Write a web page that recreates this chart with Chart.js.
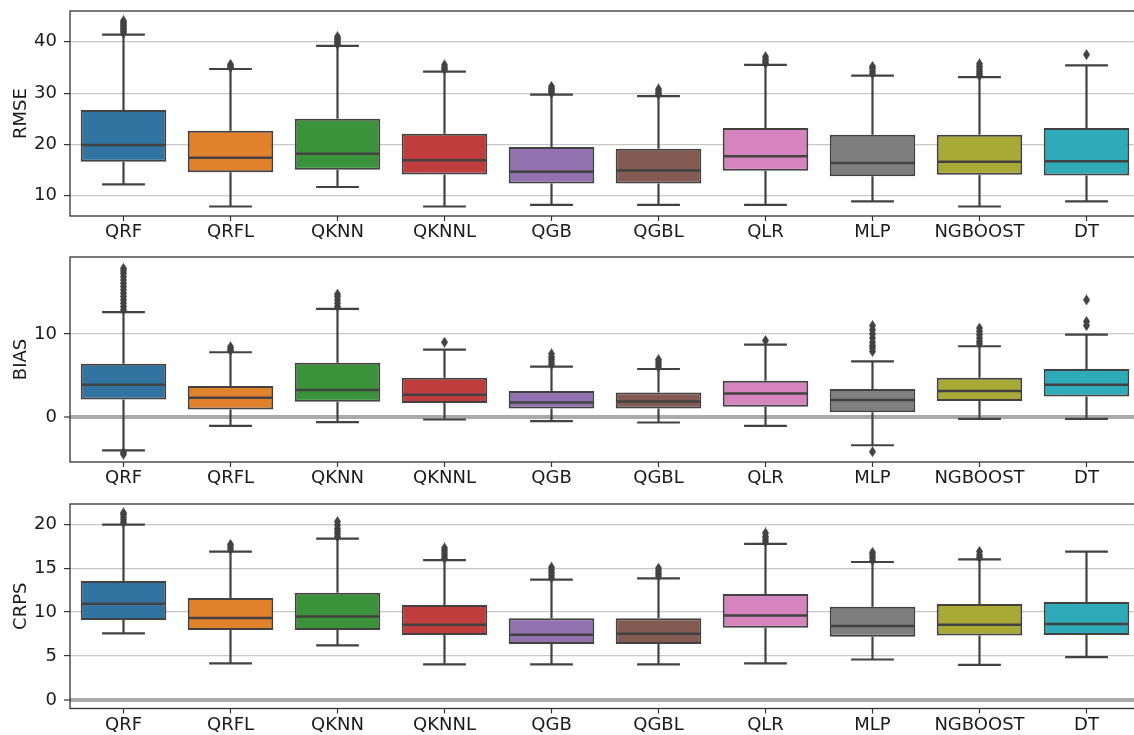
<!DOCTYPE html>
<html>
<head>
<meta charset="utf-8">
<script src="https://cdn.jsdelivr.net/npm/chart.js@4.4.1/dist/chart.umd.min.js"></script>
<style>
  html, body { margin: 0; padding: 0; background: #fff; overflow: hidden; }
  .panel { position: absolute; left: 0; }
</style>
</head>
<body>
<div class="panel" style="top:0px"><canvas id="chart-1" width="1145" height="246"></canvas></div>
<div class="panel" style="top:246px"><canvas id="chart-2" width="1145" height="246"></canvas></div>
<div class="panel" style="top:492px"><canvas id="chart-3" width="1145" height="243"></canvas></div>
<script>
/************************ data *********************************/
const categories = ["QRF", "QRFL", "QKNN", "QKNNL", "QGB", "QGBL", "QLR", "MLP", "NGBOOST", "DT"];
const boxColors = ["#3274a1", "#e1812c", "#3a923a", "#c03d3e", "#9372b2", "#845b53", "#d684bd", "#7f7f7f", "#a9aa35", "#2eaab8"];

// RMSE
const rmseTicks  = [10, 20, 30, 40];
const rmseLow    = [12.2, 7.9, 11.7, 7.9, 8.2, 8.2, 8.2, 8.9, 7.9, 8.9];
const rmseQ1     = [16.6, 14.6, 15.05, 14.15, 12.4, 12.4, 14.85, 13.8, 14.1, 13.95];
const rmseMedian = [19.9, 17.4, 18.2, 16.9, 14.65, 14.9, 17.7, 16.4, 16.6, 16.7];
const rmseQ3     = [26.7, 22.65, 25.0, 22.1, 19.5, 19.15, 23.2, 21.9, 21.9, 23.2];
const rmseHigh   = [41.4, 34.7, 39.2, 34.2, 29.7, 29.4, 35.5, 33.4, 33.1, 35.4];
const rmseOutliers = [
  [41.7, 42.0, 42.3, 42.6, 42.9, 43.2, 43.5, 43.8, 44.1],
  [35.0, 35.3, 35.6],
  [39.5, 39.8, 40.1, 40.4, 40.7, 41.0],
  [34.6, 35.0, 35.5],
  [30.0, 30.3, 30.6, 30.9, 31.3],
  [29.7, 30.0, 30.4, 30.8],
  [35.8, 36.2, 36.6, 37.1],
  [33.8, 34.3, 34.8, 35.2],
  [33.4, 33.8, 34.2, 34.7, 35.2, 35.7],
  [37.5]
];

// BIAS
const biasTicks  = [0, 10];
const biasLow    = [-4.03, -1.09, -0.64, -0.32, -0.52, -0.68, -1.09, -3.42, -0.24, -0.24];
const biasQ1     = [2.1, 0.89, 1.81, 1.66, 1.01, 1.01, 1.21, 0.57, 1.9, 2.46];
const biasMedian = [3.87, 2.3, 3.23, 2.66, 1.74, 1.86, 2.83, 2.02, 3.11, 3.87];
const biasQ3     = [6.41, 3.71, 6.53, 4.72, 3.11, 2.95, 4.35, 3.35, 4.72, 5.77];
const biasHigh   = [12.62, 7.79, 13.02, 8.1, 6.05, 5.77, 8.71, 6.7, 8.51, 9.92];
const biasOutliers = [
  [12.9, 13.3, 13.7, 14.1, 14.5, 14.9, 15.3, 15.7, 16.1, 16.5, 16.9, 17.3, 17.6, 17.9, -4.3, -4.5],
  [8.0, 8.2, 8.45],
  [13.3, 13.7, 14.1, 14.5, 14.8],
  [9.0],
  [6.3, 6.6, 6.9, 7.2, 7.6],
  [6.0, 6.3, 6.6, 6.9],
  [9.2],
  [7.9, 8.3, 8.6, 9.0, 9.5, 10.0, 10.5, 11.0, -4.2],
  [8.8, 9.1, 9.5, 9.9, 10.3, 10.7],
  [11.0, 11.5, 14.1]
];

// CRPS
const crpsTicks  = [0, 5, 10, 15, 20];
const crpsLow    = [7.57, 4.15, 6.2, 4.04, 4.04, 4.04, 4.15, 4.6, 3.99, 4.87];
const crpsQ1     = [9.09, 7.95, 7.95, 7.38, 6.35, 6.35, 8.21, 7.18, 7.34, 7.38];
const crpsMedian = [10.95, 9.32, 9.5, 8.56, 7.41, 7.53, 9.62, 8.4, 8.56, 8.63];
const crpsQ3     = [13.53, 11.6, 12.2, 10.8, 9.28, 9.28, 12.05, 10.6, 10.91, 11.14];
const crpsHigh   = [19.96, 16.88, 18.36, 15.9, 13.69, 13.84, 17.75, 15.7, 16.0, 16.88];
const crpsOutliers = [
  [20.2, 20.5, 20.8, 21.1, 21.3],
  [17.1, 17.4, 17.7],
  [18.6, 18.9, 19.2, 19.5, 19.9, 20.3],
  [16.1, 16.4, 16.7, 17.0, 17.3],
  [13.9, 14.2, 14.5, 14.8, 15.1],
  [14.1, 14.4, 14.7, 15.0],
  [18.0, 18.3, 18.6, 19.0],
  [15.9, 16.2, 16.5, 16.8],
  [16.2, 16.5, 16.9],
  []
];

/************************ styling *********************************/
const lineColor = "#424242";
Chart.defaults.font.family = "'DejaVu Sans', sans-serif";
Chart.defaults.font.size = 18;
Chart.defaults.color = "#1a1a1a";

// thin diamond marker like matplotlib "d"
const diamond = document.createElement("canvas");
diamond.width = 7;
diamond.height = 11;
(function () {
  const c = diamond.getContext("2d");
  c.fillStyle = lineColor;
  c.beginPath();
  c.moveTo(3.5, 0);
  c.lineTo(7, 5.5);
  c.lineTo(3.5, 11);
  c.lineTo(0, 5.5);
  c.closePath();
  c.fill();
})();

// whiskers under the boxes, medians on top, frame around the axes
const boxPlugin = {
  id: "boxWhiskers",
  beforeDatasetsDraw(chart) {
    const ds = chart.data.datasets[0];
    const meta = chart.getDatasetMeta(0);
    const y = chart.scales.y;
    const ctx = chart.ctx;
    ctx.save();
    ctx.strokeStyle = lineColor;
    ctx.lineWidth = 2.2;
    meta.data.forEach(function (bar, i) {
      const cx = bar.x;
      const half = bar.width / 4;
      const top = y.getPixelForValue(ds.whiskerHigh[i]);
      const bot = y.getPixelForValue(ds.whiskerLow[i]);
      const q1 = y.getPixelForValue(ds.data[i][0]);
      const q3 = y.getPixelForValue(ds.data[i][1]);
      ctx.beginPath();
      ctx.moveTo(cx, q3); ctx.lineTo(cx, top);
      ctx.moveTo(cx - half, top); ctx.lineTo(cx + half, top);
      ctx.moveTo(cx, q1); ctx.lineTo(cx, bot);
      ctx.moveTo(cx - half, bot); ctx.lineTo(cx + half, bot);
      ctx.stroke();
    });
    ctx.restore();
  },
  afterDatasetsDraw(chart) {
    const ds = chart.data.datasets[0];
    const meta = chart.getDatasetMeta(0);
    const y = chart.scales.y;
    const ctx = chart.ctx;
    ctx.save();
    ctx.strokeStyle = lineColor;
    ctx.lineWidth = 2.5;
    meta.data.forEach(function (bar, i) {
      const my = y.getPixelForValue(ds.medians[i]);
      ctx.beginPath();
      ctx.moveTo(bar.x - bar.width / 2 + 1, my);
      ctx.lineTo(bar.x + bar.width / 2 - 1, my);
      ctx.stroke();
    });
    ctx.restore();
  },
  afterDraw(chart) {
    const a = chart.chartArea;
    const ctx = chart.ctx;
    ctx.save();
    ctx.strokeStyle = "#333333";
    ctx.lineWidth = 1.3;
    ctx.strokeRect(a.left, a.top, a.right - a.left, a.bottom - a.top);
    ctx.restore();
  }
};

function createBoxConfig(label, tickValues, low, q1, median, q3, high, outliers, yMin, yMax, padTop, xHeight) {
  const points = [];
  outliers.forEach(function (list, i) {
    list.forEach(function (v) { points.push({ x: categories[i], y: v }); });
  });
  return {
    type: "bar",
    data: {
      labels: categories,
      datasets: [
        {
          label: label,
          data: categories.map(function (c, i) { return [q1[i], q3[i]]; }),
          whiskerLow: low,
          whiskerHigh: high,
          medians: median,
          backgroundColor: boxColors,
          borderColor: lineColor,
          borderWidth: 2,
          borderSkipped: false,
          barPercentage: 0.8,
          categoryPercentage: 1.0,
        },
        {
          type: "scatter",
          label: label + " outliers",
          data: points,
          showLine: false,
          pointStyle: diamond,
          pointRadius: 4,
          backgroundColor: lineColor,
          borderColor: lineColor,
        },
      ],
    },
    options: {
      responsive: false,
      animation: false,
      events: [],
      layout: { padding: { top: padTop, right: 2, left: 0, bottom: 0 } },
      plugins: { legend: { display: false }, tooltip: { enabled: false } },
      scales: {
        x: {
          type: "category",
          offset: true,
          grid: { display: true, drawOnChartArea: false, drawTicks: true, offset: false, tickLength: 5, tickColor: "#333333", tickWidth: 1.2 },
          border: { display: false },
          ticks: { padding: 1, color: "#1a1a1a" },
          afterFit: function (scale) {
            scale.height = xHeight;
            scale.paddingLeft = 0;
            scale.paddingRight = 0;
          },
        },
        y: {
          type: "linear",
          min: yMin,
          max: yMax,
          z: 1,
          border: { display: false },
          grid: {
            color: function (c) { return c.tick && c.tick.value === 0 ? "#aaaaaa" : "#c8c8c8"; },
            lineWidth: function (c) { return c.tick && c.tick.value === 0 ? 4 : 1.2; },
            tickLength: 6,
            tickColor: "#333333",
            tickWidth: 1.2,
          },
          ticks: { padding: 7, color: "#1a1a1a" },
          afterBuildTicks: function (scale) {
            scale.ticks = tickValues.map(function (v) { return { value: v }; });
          },
          title: { display: true, text: label, font: { size: 18 }, color: "#1a1a1a", padding: { top: 11, bottom: 0 } },
          afterFit: function (scale) {
            scale.width = 70;
            scale.paddingTop = 0;
            scale.paddingBottom = 0;
          },
        },
      },
    },
    plugins: [boxPlugin],
  };
}

/************************* CHART INITIALIZATION ******************************/
const ctx1 = document.getElementById("chart-1").getContext("2d");
const myChart1 = new Chart(ctx1, createBoxConfig("RMSE", rmseTicks, rmseLow, rmseQ1, rmseMedian, rmseQ3, rmseHigh, rmseOutliers, 6.05, 46.0, 11, 30));

const ctx2 = document.getElementById("chart-2").getContext("2d");
const myChart2 = new Chart(ctx2, createBoxConfig("BIAS", biasTicks, biasLow, biasQ1, biasMedian, biasQ3, biasHigh, biasOutliers, -5.44, 19.27, 11, 30));

const ctx3 = document.getElementById("chart-3").getContext("2d");
const myChart3 = new Chart(ctx3, createBoxConfig("CRPS", crpsTicks, crpsLow, crpsQ1, crpsMedian, crpsQ3, crpsHigh, crpsOutliers, -0.98, 22.3, 12, 26.5));
</script>
</body>
</html>
